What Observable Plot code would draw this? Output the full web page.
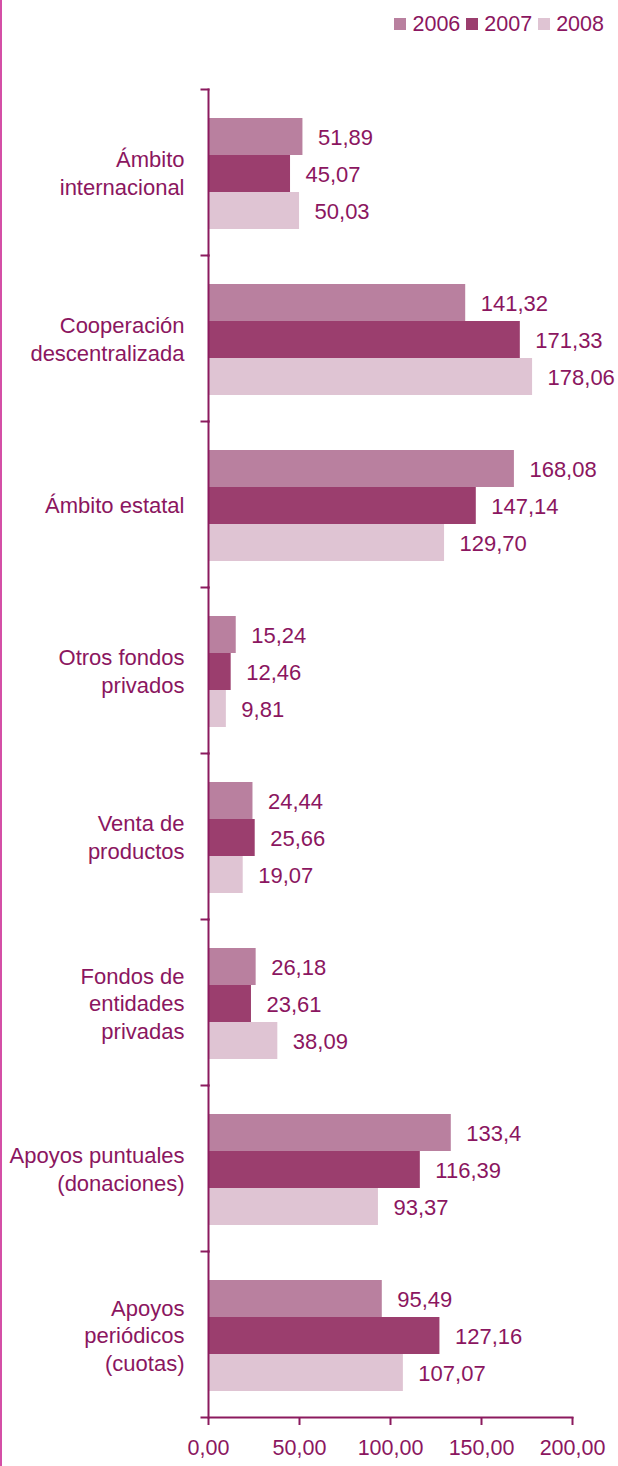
<!DOCTYPE html>
<html>
<head>
<meta charset="utf-8">
<script src="https://cdn.jsdelivr.net/npm/d3@7"></script>
<script src="https://cdn.jsdelivr.net/npm/@observablehq/plot@0.6"></script>
<style>
  html, body { margin: 0; padding: 0; background: #fff; }
  #wrap { position: relative; width: 618px; height: 1466px; overflow: hidden; font-family: "Liberation Sans", Arial, sans-serif; }
  #edge { position: absolute; left: 0; top: 0; width: 2px; height: 1466px; background: #d44fa6; }
  #legend { position: absolute; right: 14px; top: 13px; display: flex; align-items: center; font-size: 21.5px; line-height: 22px; color: #8b1660; }
  #legend .item { display: flex; align-items: center; margin-left: 6px; }
  #legend .sw { width: 12px; height: 12px; margin-right: 6px; }
  #chart { position: absolute; left: 0; top: 0; }
</style>
</head>
<body>
<div id="wrap">
  <div id="chart"></div>
  <div id="edge"></div>
  <div id="legend"></div>
</div>
<script>
const categories = [
  "Ámbito\ninternacional",
  "Cooperación\ndescentralizada",
  "Ámbito estatal",
  "Otros fondos\nprivados",
  "Venta de\nproductos",
  "Fondos de\nentidades\nprivadas",
  "Apoyos puntuales\n(donaciones)",
  "Apoyos\nperiódicos\n(cuotas)"
];
const years = ["2006", "2007", "2008"];
const values2006 = [51.89, 141.32, 168.08, 15.24, 24.44, 26.18, 133.4, 95.49];
const values2007 = [45.07, 171.33, 147.14, 12.46, 25.66, 23.61, 116.39, 127.16];
const values2008 = [50.03, 178.06, 129.70, 9.81, 19.07, 38.09, 93.37, 107.07];
const labels2006 = ["51,89", "141,32", "168,08", "15,24", "24,44", "26,18", "133,4", "95,49"];
const labels2007 = ["45,07", "171,33", "147,14", "12,46", "25,66", "23,61", "116,39", "127,16"];
const labels2008 = ["50,03", "178,06", "129,70", "9,81", "19,07", "38,09", "93,37", "107,07"];
const xTicks = [0, 50, 100, 150, 200];
const colors = ["#b9809f", "#9b3e6e", "#dfc4d3"];
const textColor = "#8b1660";
const axisColor = "#8b1a5e";

const series = [values2006, values2007, values2008];
const seriesLabels = [labels2006, labels2007, labels2008];
const data = [];
categories.forEach((c, i) => {
  years.forEach((y, k) => {
    data.push({category: c, year: y, value: series[k][i], label: seriesLabels[k][i]});
  });
});

const W = 618, H = 1466, mL = 208, mR = 46, mT = 88, mB = 49;
const plotW = W - mL - mR;

const chart = Plot.plot({
  width: W,
  height: H,
  marginTop: mT,
  marginBottom: mB,
  marginLeft: mL,
  marginRight: mR,
  style: {fontFamily: "'Liberation Sans', Arial, sans-serif", color: textColor, background: "transparent", overflow: "visible"},
  x: {domain: [0, 200]},
  y: {domain: years, padding: 0, insetTop: 29, insetBottom: 26, axis: null},
  fy: {domain: categories, padding: 0},
  color: {domain: years, range: colors},
  marks: [
    Plot.barX(data, {x: "value", y: "year", fy: "category", fill: "year"}),
    Plot.text(data, {x: "value", y: "year", fy: "category", text: "label", textAnchor: "start", dx: 15, dy: 1, fontSize: 22, fill: textColor}),
    Plot.frame({anchor: "left", stroke: axisColor, strokeWidth: 2}),
    Plot.frame({anchor: "top", insetLeft: -7, insetRight: plotW, stroke: axisColor, strokeWidth: 2}),
    Plot.frame({anchor: "bottom", facetAnchor: "bottom", insetLeft: -7, stroke: axisColor, strokeWidth: 2}),
    Plot.axisFy({anchor: "left", tickSize: 0, tickPadding: 24, fontSize: 22, lineHeight: 1.27, label: null}),
    Plot.axisX({ticks: xTicks, tickFormat: d => d.toFixed(2).replace(".", ","), tickSize: 8, tickPadding: 14, fontSize: 21.5, label: null, stroke: axisColor, strokeWidth: 2})
  ]
});
document.getElementById("chart").appendChild(chart);

const legend = document.getElementById("legend");
years.forEach((y, k) => {
  const item = document.createElement("div");
  item.className = "item";
  const sw = document.createElement("div");
  sw.className = "sw";
  sw.style.background = colors[k];
  const t = document.createElement("span");
  t.textContent = y;
  item.appendChild(sw);
  item.appendChild(t);
  legend.appendChild(item);
});
</script>
</body>
</html>
